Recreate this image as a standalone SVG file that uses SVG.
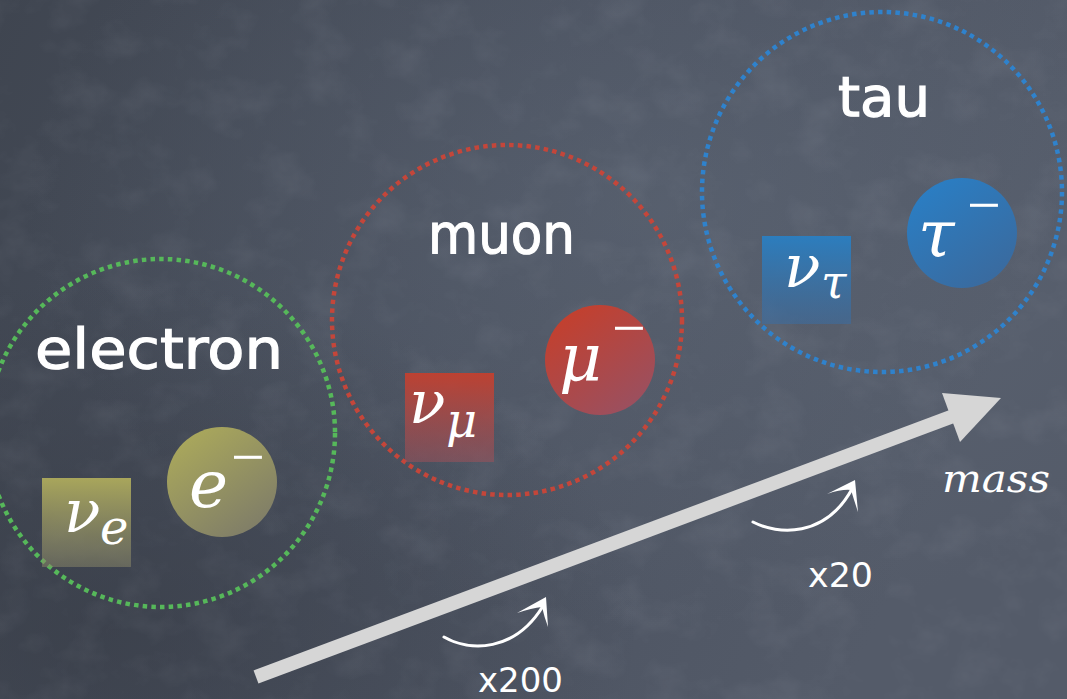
<svg xmlns="http://www.w3.org/2000/svg" width="1067" height="699" viewBox="0 0 1067 699">
  <defs>
    <linearGradient id="bgLin" x1="0" y1="0" x2="1" y2="0.3">
      <stop offset="0" stop-color="#3f4550"/>
      <stop offset="0.5" stop-color="#4a515f"/>
      <stop offset="1" stop-color="#545b69"/>
    </linearGradient>
    <radialGradient id="bgGlow" cx="0.62" cy="0.3" r="0.6">
      <stop offset="0" stop-color="#66707f" stop-opacity="0.4"/>
      <stop offset="1" stop-color="#66707f" stop-opacity="0"/>
    </radialGradient>
    <radialGradient id="bgDark" cx="0.1" cy="0.9" r="0.5">
      <stop offset="0" stop-color="#32363f" stop-opacity="0.5"/>
      <stop offset="1" stop-color="#32363f" stop-opacity="0"/>
    </radialGradient>
    <filter id="chalk" x="0" y="0" width="100%" height="100%">
      <feTurbulence type="fractalNoise" baseFrequency="0.02 0.025" numOctaves="4" seed="11"/>
      <feColorMatrix type="matrix" values="0 0 0 0 0.75  0 0 0 0 0.78  0 0 0 0 0.85  0 0 0 1.1 -0.5"/>
    </filter>
    <linearGradient id="gYel" x1="0" y1="0" x2="0" y2="1">
      <stop offset="0" stop-color="#aeab5c" stop-opacity="0.95"/>
      <stop offset="1" stop-color="#8d8a6a" stop-opacity="0.5"/>
    </linearGradient>
    <linearGradient id="gRed" x1="0" y1="0" x2="0" y2="1">
      <stop offset="0" stop-color="#c2402f" stop-opacity="0.95"/>
      <stop offset="1" stop-color="#a35058" stop-opacity="0.5"/>
    </linearGradient>
    <linearGradient id="gBlu" x1="0" y1="0" x2="0" y2="1">
      <stop offset="0" stop-color="#2a7fc2" stop-opacity="0.95"/>
      <stop offset="1" stop-color="#3a6da3" stop-opacity="0.55"/>
    </linearGradient>
    <linearGradient id="cYel" x1="0.2" y1="0.1" x2="0.8" y2="0.95">
      <stop offset="0" stop-color="#a8a65c"/>
      <stop offset="1" stop-color="#7f7d68"/>
    </linearGradient>
    <linearGradient id="cRed" x1="0.2" y1="0.1" x2="0.8" y2="0.95">
      <stop offset="0" stop-color="#c2402f"/>
      <stop offset="1" stop-color="#9a5060"/>
    </linearGradient>
    <linearGradient id="cBlu" x1="0.2" y1="0.1" x2="0.8" y2="0.95">
      <stop offset="0" stop-color="#2b7dc2"/>
      <stop offset="1" stop-color="#3a6a9e"/>
    </linearGradient>
  </defs>
  <style>
    .ring { fill: none; stroke-width: 4.5; stroke-dasharray: 4.5 4.2; }
    .label { font-family: "Comic Sans MS", "DejaVu Sans", sans-serif; font-size: 56px; fill: #ffffff; stroke: #ffffff; stroke-width: 1.2; }
    .math { font-family: "DejaVu Serif", "Liberation Serif", serif; font-style: italic; fill: #ffffff; }
    .minus { font-family: "Liberation Serif", "DejaVu Serif", serif; fill: #ffffff; }
    .factor { font-family: "DejaVu Sans", sans-serif; font-size: 33px; fill: #ffffff; }
    .small { fill: none; stroke: #ffffff; stroke-width: 3; stroke-linecap: round; }
  </style>

  <rect width="1067" height="699" fill="url(#bgLin)"/>
  <rect width="1067" height="699" fill="url(#bgGlow)"/>
  <rect width="1067" height="699" fill="url(#bgDark)"/>
  <rect width="1067" height="699" filter="url(#chalk)" opacity="0.13"/>

  <g id="electron">
    <circle class="ring" cx="161" cy="433" r="174" stroke="#56b85a"/>
    <text class="label" x="35" y="368" textLength="248" lengthAdjust="spacingAndGlyphs">electron</text>
    <g id="nu-e">
      <rect x="42" y="478" width="89" height="89" fill="url(#gYel)"/>
      <text class="math" x="64" y="532" font-size="60">ν</text>
      <text class="math" x="100" y="544" font-size="48">e</text>
    </g>
    <g id="e-minus">
      <circle cx="222" cy="482" r="55" fill="url(#cYel)"/>
      <text class="math" x="189" y="507" font-size="66">e</text>
      <text class="minus" x="231" y="477" font-size="60">−</text>
    </g>
  </g>

  <g id="muon">
    <circle class="ring" cx="507" cy="320" r="175" stroke="#c4463a"/>
    <text class="label" x="428" y="253" textLength="147" lengthAdjust="spacingAndGlyphs">muon</text>
    <g id="nu-mu">
      <rect x="405" y="373" width="89" height="89" fill="url(#gRed)"/>
      <text class="math" x="409" y="423" font-size="60">ν</text>
      <text class="math" x="446" y="437" font-size="48">μ</text>
    </g>
    <g id="mu-minus">
      <circle cx="600" cy="360" r="55" fill="url(#cRed)"/>
      <text class="math" x="559" y="380" font-size="66">μ</text>
      <text class="minus" x="612" y="348" font-size="60">−</text>
    </g>
  </g>

  <g id="tau">
    <circle class="ring" cx="882" cy="192" r="180" stroke="#2f82cc"/>
    <text class="label" x="838" y="116" textLength="92" lengthAdjust="spacingAndGlyphs">tau</text>
    <g id="nu-tau">
      <rect x="762" y="236" width="89" height="88" fill="url(#gBlu)"/>
      <text class="math" x="784" y="287" font-size="60">ν</text>
      <text class="math" x="821" y="298" font-size="46">τ</text>
    </g>
    <g id="tau-minus">
      <circle cx="962" cy="233" r="55" fill="url(#cBlu)"/>
      <text class="math" x="918" y="257" font-size="66">τ</text>
      <text class="minus" x="967" y="225" font-size="60">−</text>
    </g>
  </g>

  <g id="connectors">
    <g id="mass-arrow">
      <line x1="256" y1="677" x2="956" y2="415" stroke="#d6d6d6" stroke-width="14"/>
      <polygon points="1001,398 942,393 960,442" fill="#d6d6d6"/>
    </g>
    <g id="x200-arrow">
      <path class="small" d="M444,637 C470,652 515,652 543,606"/>
      <path d="M546,597 L517,613 Q532,608 542,607 Q544,616 548,627 Z" fill="#ffffff"/>
    </g>
    <g id="x20-arrow">
      <path class="small" d="M753,522 C778,535 825,538 852,489"/>
      <path d="M855,480 L827,494 Q842,489 851,490 Q854,500 858,512 Z" fill="#ffffff"/>
    </g>
  </g>

  <text class="factor" x="478" y="692" textLength="85" lengthAdjust="spacingAndGlyphs">x200</text>
  <text class="factor" x="808" y="587" textLength="65" lengthAdjust="spacingAndGlyphs">x20</text>
  <text x="942" y="492" font-family="DejaVu Serif, Liberation Serif, serif" font-style="italic" font-size="40" fill="#ffffff" textLength="108" lengthAdjust="spacingAndGlyphs">mass</text>
</svg>
